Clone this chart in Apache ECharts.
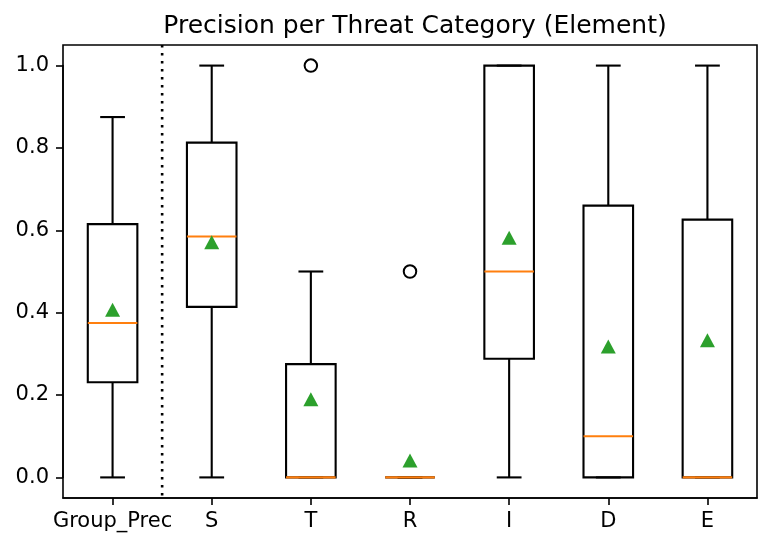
<!DOCTYPE html>
<html>
<head>
    <meta charset="utf-8">
    <title>Precision per Threat Category</title>
    <script src="https://cdn.jsdelivr.net/npm/echarts@6/dist/echarts.min.js"></script>
    <style>
        html, body { margin: 0; padding: 0; background: #fff; }
        #main { width: 775px; height: 550px; }
    </style>
</head>
<body>
<div id="main"></div>
<script type="text/javascript">
    // box statistics
    var categories  = ['Group_Prec', 'S', 'T', 'R', 'I', 'D', 'E'];
    var whiskerLow  = [0, 0, 0, 0, 0, 0, 0];
    var q1          = [0.231, 0.414, 0, 0, 0.288, 0, 0];
    var median      = [0.375, 0.585, 0, 0, 0.5, 0.1, 0];
    var q3          = [0.615, 0.813, 0.275, 0, 1.0, 0.66, 0.626];
    var whiskerHigh = [0.875, 1.0, 0.5, 0, 1.0, 1.0, 1.0];
    var means       = [0.407, 0.571, 0.19, 0.041, 0.582, 0.318, 0.333];
    var outlierCats   = ['T', 'R'];
    var outlierValues = [1.0, 0.5];

    var yTicks = [0, 0.2, 0.4, 0.6, 0.8, 1.0];

    var FONT = 'DejaVu Sans';
    var LEFT = 63, RIGHT = 18, TOP = 45, BOTTOM = 52;
    var Y_MIN = -0.05, Y_MAX = 1.05;
    var plotH = 550 - TOP - BOTTOM;
    // second grid only carries the y ticks/labels for 0..1
    var padTop = plotH * (Y_MAX - 1) / (Y_MAX - Y_MIN);
    var padBottom = plotH * (0 - Y_MIN) / (Y_MAX - Y_MIN);

    var boxData = categories.map(function (c, i) {
        return [i, whiskerLow[i], q1[i], median[i], q3[i], whiskerHigh[i]];
    });
    var meanData = categories.map(function (c, i) { return [i, means[i]]; });
    var outlierData = outlierCats.map(function (c, i) {
        return [categories.indexOf(c), outlierValues[i]];
    });

    function renderBox(params, api) {
        var idx = api.value(0);
        var pLo = api.coord([idx, api.value(1)]);
        var pQ1 = api.coord([idx, api.value(2)]);
        var pMed = api.coord([idx, api.value(3)]);
        var pQ3 = api.coord([idx, api.value(4)]);
        var pHi = api.coord([idx, api.value(5)]);
        var band = api.size([1, 0])[0];
        var x = pLo[0];
        var hw = band * 0.25, cw = band * 0.125;
        var stroke = { stroke: '#000', lineWidth: 2.1, fill: null };
        var kids = [
            { type: 'line', shape: { x1: x, y1: pQ1[1], x2: x, y2: pLo[1] }, style: stroke },
            { type: 'line', shape: { x1: x, y1: pQ3[1], x2: x, y2: pHi[1] }, style: stroke },
            { type: 'line', shape: { x1: x - cw, y1: pLo[1], x2: x + cw, y2: pLo[1] }, style: stroke },
            { type: 'line', shape: { x1: x - cw, y1: pHi[1], x2: x + cw, y2: pHi[1] }, style: stroke },
            { type: 'rect', shape: { x: x - hw, y: pQ3[1], width: hw * 2, height: pQ1[1] - pQ3[1] },
              style: { stroke: '#000', lineWidth: 2.1, fill: null } },
            { type: 'line', shape: { x1: x - hw, y1: pMed[1], x2: x + hw, y2: pMed[1] },
              style: { stroke: '#ff7f0e', lineWidth: 2.1 } }
        ];
        if (params.dataIndex === 0) {
            var cs = params.coordSys;
            var sx = x + band / 2;
            kids.push({ type: 'line', shape: { x1: sx, y1: cs.y, x2: sx, y2: cs.y + cs.height },
                style: { stroke: '#000', lineWidth: 2.6, lineDash: [2.6, 5.4] } });
        }
        return { type: 'group', children: kids };
    }

    var myChart = echarts.init(document.getElementById('main'));
    var axisLineStyle = { color: '#000', width: 1.6 };
    var option = {
        animation: false,
        backgroundColor: '#fff',
        textStyle: { fontFamily: FONT },
        title: {
            text: 'Precision per Threat Category (Element)',
            left: LEFT + (775 - LEFT - RIGHT) / 2,
            textAlign: 'center',
            top: 9,
            textStyle: { fontFamily: FONT, fontSize: 25, fontWeight: 'normal', color: '#000' }
        },
        grid: [
            { left: LEFT, right: RIGHT, top: TOP, bottom: BOTTOM, show: true,
              borderColor: '#000', borderWidth: 1.6, backgroundColor: 'transparent' },
            { left: LEFT, right: RIGHT, top: TOP + padTop, bottom: BOTTOM + padBottom }
        ],
        xAxis: [
            {
                type: 'category', gridIndex: 0, data: categories,
                axisLine: { show: true, onZero: false, lineStyle: axisLineStyle },
                axisTick: { show: true, alignWithLabel: true, interval: 0, length: 7, lineStyle: axisLineStyle },
                axisLabel: { interval: 0, color: '#000', fontSize: 21, fontFamily: FONT, margin: 13 },
                splitLine: { show: false }
            },
            { type: 'category', gridIndex: 1, data: categories, show: false }
        ],
        yAxis: [
            { type: 'value', gridIndex: 0, min: Y_MIN, max: Y_MAX, show: false },
            {
                type: 'value', gridIndex: 1, min: yTicks[0], max: yTicks[yTicks.length - 1], interval: 0.2,
                axisLine: { show: true, onZero: false, lineStyle: axisLineStyle },
                axisTick: { show: true, length: 7, lineStyle: axisLineStyle },
                axisLabel: { color: '#000', fontSize: 21, fontFamily: FONT, margin: 14,
                    formatter: function (v) { return v.toFixed(1); } },
                splitLine: { show: false }
            }
        ],
        series: [
            {
                type: 'custom', xAxisIndex: 0, yAxisIndex: 0,
                renderItem: renderBox, data: boxData, clip: false, z: 2
            },
            {
                type: 'scatter', xAxisIndex: 0, yAxisIndex: 0, data: meanData,
                symbol: 'triangle', symbolSize: [15, 14],
                itemStyle: { color: '#2ca02c', opacity: 1 }, z: 3
            },
            {
                type: 'scatter', xAxisIndex: 0, yAxisIndex: 0, data: outlierData,
                symbol: 'circle', symbolSize: 12.5,
                itemStyle: { color: 'rgba(0,0,0,0)', borderColor: '#000', borderWidth: 2, opacity: 1 }, z: 3
            }
        ]
    };
    myChart.setOption(option);
</script>
</body>
</html>
